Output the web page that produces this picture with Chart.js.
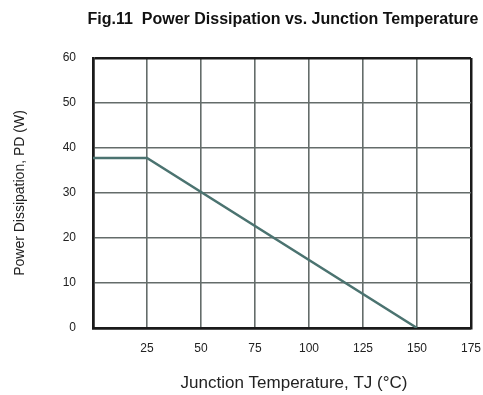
<!DOCTYPE html>
<html lang="en">
<head>
  <meta charset="UTF-8" />
  <title>Power Dissipation vs. Junction Temperature</title>
  <script src="https://cdn.jsdelivr.net/npm/chart.js"></script>
  <style>
    body {
      margin: 0;
      background: #fff;
    }
    canvas {
      display: block;
    }
  </style>
</head>
<body>
  <canvas id="pdChart" width="483" height="395"></canvas>

  <script>
    // derating curve
    const junctionTemps = [0, 25, 150];
    const powerDiss = [37.8, 37.8, 0];

    const xTicks = [25, 50, 75, 100, 125, 150, 175];
    const yTicks = [0, 10, 20, 30, 40, 50, 60];

    const figTitle = 'Fig.11  Power Dissipation vs. Junction Temperature';
    const xTitle = 'Junction Temperature, TJ (°C)';

    // titles placed the way the datasheet has them (a bit right of centre)
    const plotTitles = {
      id: 'plotTitles',
      afterDraw(chart) {
        const ctx = chart.ctx;
        const area = chart.chartArea;
        const mid = (area.left + area.right) / 2;
        ctx.save();
        ctx.textAlign = 'center';
        ctx.textBaseline = 'middle';
        ctx.font = 'bold 16px "Liberation Sans", Arial, sans-serif';
        ctx.fillStyle = '#111';
        ctx.fillText(figTitle, mid + 1, 20);
        ctx.font = '17px "Liberation Sans", Arial, sans-serif';
        ctx.fillStyle = '#222';
        ctx.fillText(xTitle, mid + 12, 383);
        ctx.restore();
      }
    };

    const edgeColor = (c, last) => (c.tick && (c.tick.value === 0 || c.tick.value === last)) ? '#1a1a1a' : '#646c6a';
    const edgeWidth = (c, last) => (c.tick && (c.tick.value === 0 || c.tick.value === last)) ? 2.5 : 1.6;

    const ctx = document.getElementById('pdChart').getContext('2d');
    new Chart(ctx, {
      type: 'line',
      data: {
        datasets: [{
          data: junctionTemps.map((t, i) => ({ x: t, y: powerDiss[i] })),
          borderColor: '#4b7370',
          borderWidth: 2.5,
          pointRadius: 0,
          fill: false,
          tension: 0
        }]
      },
      options: {
        responsive: false,
        animation: false,
        layout: { padding: { left: 0, right: 12, top: 58, bottom: 0 } },
        plugins: {
          legend: { display: false },
          tooltip: { enabled: false }
        },
        scales: {
          x: {
            type: 'linear',
            min: 0,
            max: 175,
            afterFit: s => { s.height = 67; s.paddingRight = 0; s.paddingLeft = 0; },
            afterBuildTicks: s => { s.ticks = [0].concat(xTicks).map(v => ({ value: v })); },
            border: { color: '#1a1a1a', width: 2.5 },
            grid: {
              drawTicks: false,
              color: c => edgeColor(c, 175),
              lineWidth: c => edgeWidth(c, 175)
            },
            ticks: {
              padding: 13,
              color: '#222',
              font: { family: '"Liberation Sans", Arial, sans-serif', size: 12 },
              callback: v => v === 0 ? '' : v
            }
          },
          y: {
            min: 0,
            max: 60,
            afterFit: s => { s.width = 93; },
            afterBuildTicks: s => { s.ticks = yTicks.map(v => ({ value: v })); },
            border: { color: '#1a1a1a', width: 2.5 },
            grid: {
              drawTicks: false,
              color: c => edgeColor(c, 60),
              lineWidth: c => edgeWidth(c, 60)
            },
            ticks: {
              padding: 17,
              color: '#222',
              font: { family: '"Liberation Sans", Arial, sans-serif', size: 12 }
            },
            title: {
              display: true,
              text: 'Power Dissipation, PD (W)',
              color: '#222',
              font: { family: '"Liberation Sans", Arial, sans-serif', size: 14 },
              padding: { top: 12, bottom: 0 }
            }
          }
        }
      },
      plugins: [plotTitles]
    });
  </script>
</body>
</html>
